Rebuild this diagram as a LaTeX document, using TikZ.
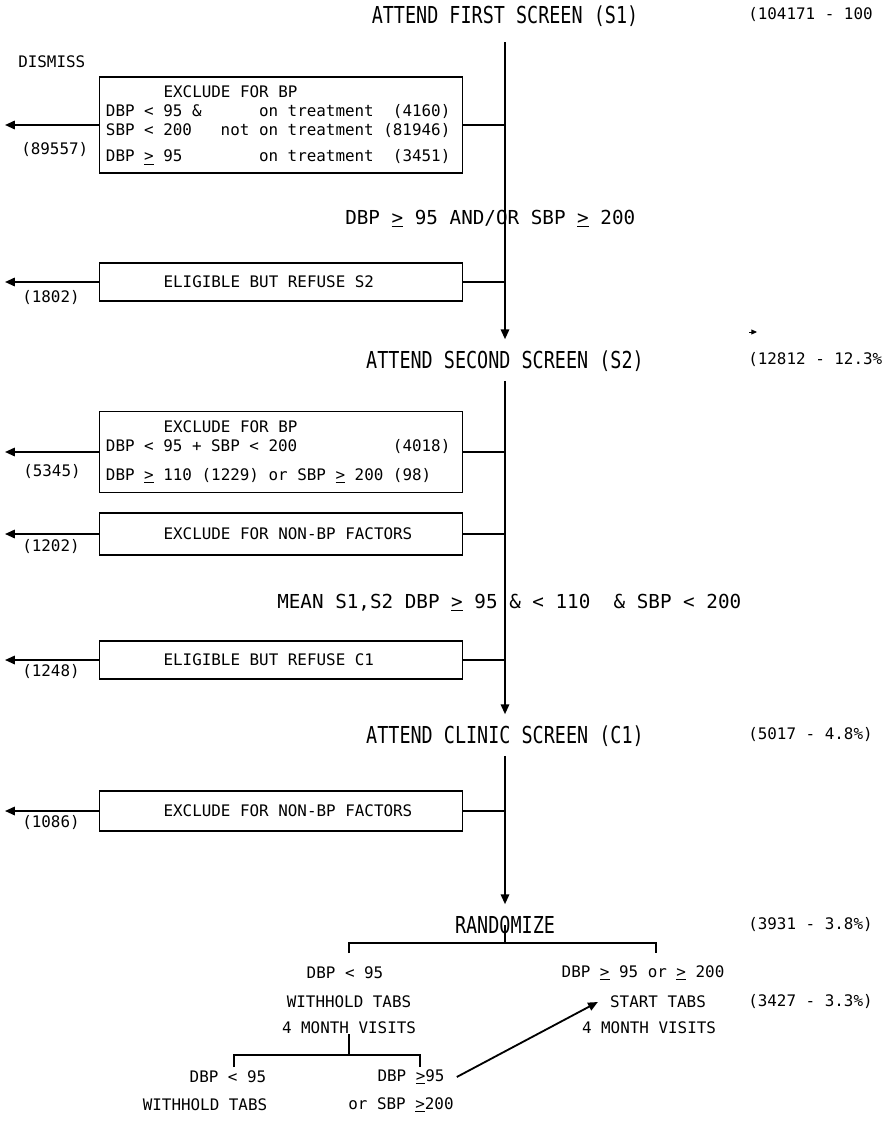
\documentclass[tikz,border=0pt]{standalone}
\usepackage{fontspec}
\usepackage{tikz}
\usetikzlibrary{arrows.meta, positioning, calc}
\newfontfamily\typew{DejaVu Sans Mono}
\newfontfamily\titlef{DejaVu Sans Mono}[FakeStretch=0.79]
\newcommand{\uge}{\underline{>}}
\newcommand{\boxind}{\hspace*{1.44cm}}
\frenchspacing

\begin{document}
\begin{tikzpicture}[
  x=0.025cm, y=-0.025cm,
  txt/.style={font=\typew\fontsize{11.3}{13.5}\selectfont, inner sep=0pt},
  cnt/.style={txt, anchor=west},
  cond/.style={font=\typew\fontsize{13.7}{16}\selectfont, inner sep=0pt, anchor=west},
  title/.style={font=\titlef\fontsize{16.6}{20}\selectfont, text height=0.425cm,
                text depth=0cm, inner xsep=0pt, inner ysep=0.3cm},
  blk/.style={txt, draw, line width=1.3pt, text width=8.75cm, align=left,
              inner xsep=0.16cm, inner ysep=0pt,
              execute at begin node={\spaceskip=0pt\xspaceskip=0pt\relax}},
  ln/.style={line width=1.3pt},
  arr/.style={ln, -{Triangle[length=7pt, width=6pt]}},
]
\useasboundingbox (0,0) rectangle (883,1124);

%% ---- main column ----
\node[title] (s1)   at (505,15)  {ATTEND FIRST SCREEN (S1)};
\node[title] (s2)   at (505,360) {ATTEND SECOND SCREEN (S2)};
\node[title] (c1)   at (505,735) {ATTEND CLINIC SCREEN (C1)};
\node[title] (rand) at (505,925) {RANDOMIZE};

\draw[arr, shorten <=4.5pt] (s1) -- (s2);
\draw[arr] (s2) -- (c1);
\draw[arr] (c1) -- (rand);

\node[cond] (crit1) at (345,219) {DBP \uge{} 95 AND/OR SBP \uge{} 200};
\node[cond] (crit2) at (277,603) {MEAN S1,S2 DBP \uge{} 95 \& < 110~~\& SBP < 200};

%% ---- exclusions ----
\node[cnt] (dismiss) at (18,62) {DISMISS};

\node[blk, minimum height=2.4cm] (bpex1) at (281,125)
  {\boxind EXCLUDE FOR BP\\
   DBP < 95 \&~~~~~~on treatment~~(4160)\\
   SBP < 200~~~not on treatment (81946)\\[5.5pt]
   DBP \uge{} 95~~~~~~~~on treatment~~(3451)};
\node[blk, minimum height=0.95cm] (refs2) at (281,282)
  {\boxind ELIGIBLE BUT REFUSE S2};
\node[blk, minimum height=2.025cm] (bpex2) at (281,452)
  {\boxind EXCLUDE FOR BP\\
   DBP < 95 + SBP < 200~~~~~~~~~~(4018)\\[7pt]
   DBP \uge{} 110 (1229) or SBP \uge{} 200 (98)};
\node[blk, minimum height=1.05cm] (nonbp2) at (281,534)
  {\boxind EXCLUDE FOR NON-BP FACTORS};
\node[blk, minimum height=0.95cm] (refc1) at (281,660)
  {\boxind ELIGIBLE BUT REFUSE C1};
\node[blk, minimum height=1.0cm] (nonbpc1) at (281,811)
  {\boxind EXCLUDE FOR NON-BP FACTORS};

\coordinate (out) at (5,0);
\foreach \b in {bpex1, refs2, bpex2, nonbp2, refc1, nonbpc1} {
  \draw[ln] (\b) -- (\b -| s1);
  \draw[arr] (\b) -- (\b -| out);
}

\node[cnt] (n1) at (21,150) {(89557)};
\node[cnt] (n2) at (22,298) {(1802)};
\node[cnt] (n3) at (23,472) {(5345)};
\node[cnt] (n4) at (22,547) {(1202)};
\node[cnt] (n5) at (22,672) {(1248)};
\node[cnt] (n6) at (22,823) {(1086)};

%% ---- right column counts ----
\node[cnt] (p1) at (748,15)   {(104171 - 100};
\node[cnt] (p2) at (748,360)  {(12812 - 12.3\%};
\node[cnt] (p3) at (748,735)  {(5017 - 4.8\%)};
\node[cnt] (p4) at (748,925)  {(3931 - 3.8\%)};
\node[cnt] (p5) at (748,1002) {(3427 - 3.3\%)};
\coordinate (mark) at (749,332);
\draw[-{Triangle[length=4pt, width=3.5pt]}, line width=0.6pt] (mark) -- ++(8,0);

%% ---- randomisation ----
\coordinate (rj) at (505,943);
\coordinate (rl) at (349,953);
\coordinate (rr) at (656,953);
\draw[ln] (rand.center) -- (rj);
\draw[ln] (rl) |- (rj) -| (rr);

\node[txt] (ldbp) at (345,973)  {DBP < 95};
\node[txt] (lwh)  at (349,1002) {WITHHOLD TABS};
\node[txt] (lvis) at (349,1028) {4 MONTH VISITS};
\node[txt] (rdbp) at (643,973)  {DBP \uge{} 95 or \uge{} 200};
\node[txt, inner xsep=0.3cm] (rst) at (658,1002) {START TABS};
\node[txt] (rvis) at (649,1028) {4 MONTH VISITS};

\coordinate (sj) at (349,1055);
\coordinate (sl) at (234,1067);
\coordinate (sr) at (420,1067);
\draw[ln] (lvis) -- (sj);
\draw[ln] (sl) |- (sj) -| (sr);

\node[txt] (bdbp) at (228,1077) {DBP < 95};
\node[txt] (bwh)  at (205,1105) {WITHHOLD TABS};
\node[txt, inner xsep=0.3cm] (bhi) at (411,1077) {DBP \uge{}95};
\node[txt] (bor)  at (401,1105) {or SBP \uge{}200};

\draw[arr] (bhi.east) -- (rst.west);

\end{tikzpicture}
\end{document}
